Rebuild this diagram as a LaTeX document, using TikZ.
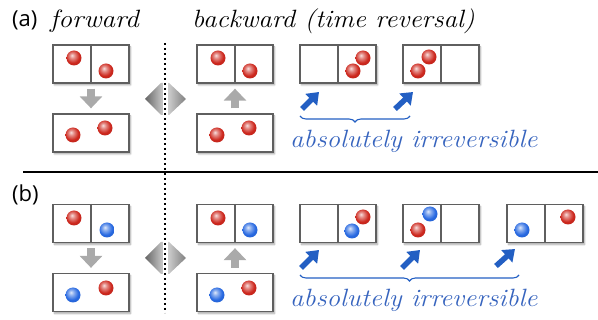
\documentclass[tikz,border=0pt]{standalone}
\usepackage{fontspec}
\newfontfamily\tagfont{Open Sans}
\usetikzlibrary{arrows.meta,decorations.pathreplacing,shadows.blur}
\definecolor{boxline}{RGB}{95,95,95}
\definecolor{ballred}{RGB}{205,40,30}
\definecolor{ballblue}{RGB}{40,105,225}
\definecolor{arrowgray}{RGB}{170,170,170}
\definecolor{revblue}{RGB}{35,95,195}
\definecolor{textblue}{RGB}{55,100,190}
% glossy spheres with an upper-left highlight
\pgfdeclareradialshading{redsphere}{\pgfpoint{-7bp}{9bp}}{%
  color(0bp)=(ballred!15!white); color(9bp)=(ballred!55!white);
  color(22bp)=(ballred); color(42bp)=(ballred!85!black); color(62bp)=(ballred!65!black)}
\pgfdeclareradialshading{bluesphere}{\pgfpoint{-7bp}{9bp}}{%
  color(0bp)=(ballblue!15!white); color(9bp)=(ballblue!55!white);
  color(22bp)=(ballblue); color(42bp)=(ballblue!85!black); color(62bp)=(ballblue!65!black)}
\begin{document}
\begin{tikzpicture}[x=1pt,y=-1pt,
  cell/.style={draw=boxline, line width=1.3pt, fill=white, minimum width=76pt,
    minimum height=38pt, inner sep=0pt,
    blur shadow={shadow xshift=1.5pt, shadow yshift=-2pt, shadow blur steps=6, shadow opacity=35}},
  divider/.style={draw=boxline, line width=1.3pt},
  rball/.style={circle, minimum size=15pt, inner sep=0pt, shading=redsphere},
  bball/.style={circle, minimum size=15pt, inner sep=0pt, shading=bluesphere},
  grayarrow/.style={line width=8pt, draw=arrowgray, -{Triangle[width=22pt,length=12pt]}},
  bluearrow/.style={line width=5.5pt, draw=revblue, -{Triangle[width=16pt,length=11pt]}},
  bracket/.style={draw=revblue, line width=1.1pt, decorate,
    decoration={brace, mirror, amplitude=6pt}},
  tag/.style={inner sep=0pt, anchor=base west, font=\tagfont\fontsize{22}{26}\selectfont},
  title/.style={inner sep=0pt, anchor=base west, font=\itshape\fontsize{25}{30}\selectfont},
  note/.style={title, text=textblue},
  sep/.style={line width=1.6pt, dash pattern=on 1.6pt off 3.4pt},
]
\useasboundingbox (0,0) rectangle (598,320);

% separators
\draw[line width=1.2pt] (23,172) -- (598,172);

% double arrows between forward and backward
\foreach \yc in {99,258}{
  \shade[left color=black!60, right color=black!50, middle color=black!15]
    (145,\yc) -- (161,\yc-16) -- (169,\yc-16) -- (186,\yc) -- (169,\yc+16) -- (161,\yc+16) -- cycle;
  \fill[white] (162.5,\yc-17) rectangle (167.5,\yc+17);
}
\draw[sep] (165,43) -- (165,313);

% ---------- (a) ----------
\node[tag] (ta) at (12,27) {(a)};
\node[title] (fa) at (50,28) {\scalebox{1.1}[1]{forward}};
\node[title] (ba) at (192,28) {\scalebox{1.08}[1]{backward (time reversal)}};

\node[cell] (a1) at (91,64) {};
\draw[divider] (a1.north) -- (a1.south);
\node[cell] (a2) at (91,133) {};
\node[rball] (a1r) at (74,58) {};
\node[rball] (a1s) at (106,71) {};
\node[rball] (a2r) at (73,135) {};
\node[rball] (a2s) at (105,128) {};
\draw[grayarrow] ([yshift=-5pt]a1.south) -- ([yshift=5pt]a2.north);

\node[cell] (a3) at (235,64) {};
\draw[divider] (a3.north) -- (a3.south);
\node[cell] (a4) at (235,133) {};
\node[rball] (a3r) at (218,58) {};
\node[rball] (a3s) at (250,71) {};
\node[rball] (a4r) at (217,135) {};
\node[rball] (a4s) at (249,128) {};
\draw[grayarrow] ([yshift=5pt]a4.north) -- ([yshift=-5pt]a3.south);

\node[cell] (a5) at (338,64) {};
\draw[divider] (a5.north) -- (a5.south);
\node[rball] (a5r) at (363,58) {};
\node[rball] (a5s) at (353,71) {};
\node[cell] (a6) at (441,64) {};
\draw[divider] (a6.north) -- (a6.south);
\node[rball] (a6r) at (429,57) {};
\node[rball] (a6s) at (418,71) {};

\coordinate (a5t) at (302,109);
\coordinate (a5h) at (319,92);
\coordinate (a6t) at (395,109);
\coordinate (a6h) at (413,92);
\draw[bluearrow] (a5t) -- (a5h);
\draw[bluearrow] (a6t) -- (a6h);
\coordinate (ba1) at (300,116);
\coordinate (ba2) at (410,116);
\draw[bracket] (ba1) -- (ba2);
\node[note] (na) at (290,148) {\scalebox{1.08}[1]{absolutely irreversible}};

% ---------- (b) ----------
\node[tag] (tb) at (12,202) {(b)};

\node[cell] (b1) at (91,223.5) {};
\draw[divider] (b1.north) -- (b1.south);
\node[cell] (b2) at (91,292.5) {};
\node[rball] (b1r) at (74,218) {};
\node[bball] (b1b) at (107,230) {};
\node[bball] (b2b) at (73,295) {};
\node[rball] (b2r) at (106,288) {};
\draw[grayarrow] ([yshift=-5pt]b1.south) -- ([yshift=5pt]b2.north);

\node[cell] (b3) at (235,223.5) {};
\draw[divider] (b3.north) -- (b3.south);
\node[cell] (b4) at (235,292.5) {};
\node[rball] (b3r) at (218,218) {};
\node[bball] (b3b) at (250,230) {};
\node[bball] (b4b) at (217,295) {};
\node[rball] (b4r) at (249,288) {};
\draw[grayarrow] ([yshift=5pt]b4.north) -- ([yshift=-5pt]b3.south);

\node[cell] (b5) at (338,223.5) {};
\draw[divider] (b5.north) -- (b5.south);
\node[rball] (b5r) at (363,217) {};
\node[bball] (b5b) at (352,231) {};
\node[cell] (b6) at (441,223.5) {};
\draw[divider] (b6.north) -- (b6.south);
\node[bball] (b6b) at (430,214) {};
\node[rball] (b6r) at (418,230) {};
\node[cell] (b7) at (545,223.5) {};
\draw[divider] (b7.north) -- (b7.south);
\node[bball] (b7b) at (522,230) {};
\node[rball] (b7r) at (568,217) {};

\coordinate (b5t) at (301,268);
\coordinate (b5h) at (319,250);
\coordinate (b6t) at (402,268);
\coordinate (b6h) at (420,250);
\coordinate (b7t) at (496,266);
\coordinate (b7h) at (515,249);
\draw[bluearrow] (b5t) -- (b5h);
\draw[bluearrow] (b6t) -- (b6h);
\draw[bluearrow] (b7t) -- (b7h);
\coordinate (bb1) at (300,275);
\coordinate (bb2) at (519,275);
\draw[bracket] (bb1) -- (bb2);
\node[note] (nb) at (290,307) {\scalebox{1.08}[1]{absolutely irreversible}};
\end{tikzpicture}
\end{document}
